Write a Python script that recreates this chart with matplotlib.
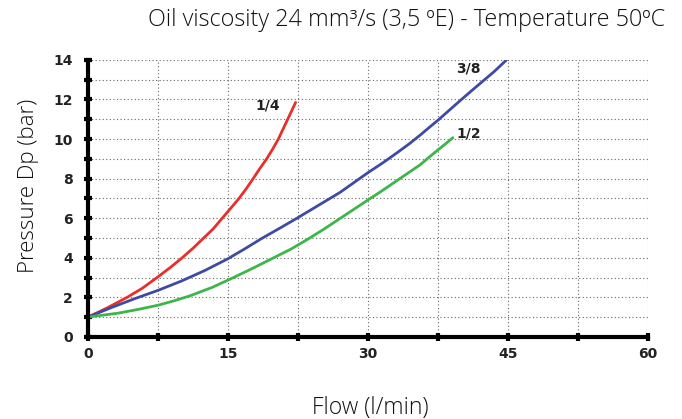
import matplotlib.pyplot as plt
from matplotlib.ticker import MultipleLocator

# pressure drop curves read at flow points (l/min -> bar)
flow_14 = [0, 2.0, 4.2, 5.8, 7.4, 8.8, 10.1, 11.3, 12.4, 13.4, 14.3, 15.2,
           16.1, 16.9, 17.7, 18.4, 19.15, 19.8, 20.4, 20.9, 21.35, 21.8, 22.25]
dp_14 = [1.0, 1.45, 2.0, 2.45, 3.0, 3.5, 4.0, 4.5, 5.0, 5.45, 5.95, 6.45,
         6.95, 7.45, 8.0, 8.5, 9.0, 9.5, 10.0, 10.5, 10.95, 11.4, 11.85]

flow_38 = [0, 2.5, 5.0, 7.5, 10.0, 12.5, 15.0, 16.8, 18.6, 20.5, 22.4,
           24.7, 27.0, 28.5, 30.0, 31.6, 33.1, 34.4, 35.6, 36.6, 37.5,
           38.7, 39.9, 41.0, 42.0, 43.5, 44.85]
dp_38 = [1.0, 1.48, 1.93, 2.35, 2.82, 3.35, 3.95, 4.45, 4.97, 5.48, 6.0,
         6.65, 7.3, 7.8, 8.3, 8.8, 9.3, 9.75, 10.2, 10.6, 10.95,
         11.45, 11.95, 12.4, 12.8, 13.4, 14.0]

flow_12 = [0, 3.25, 5.5, 7.5, 9.2, 10.9, 13.3, 15.6, 17.8, 19.9, 21.8,
           23.6, 25.3, 26.9, 28.5, 30.0, 31.4, 32.8, 34.2, 35.6, 36.6,
           37.5, 38.3, 39.1]
dp_12 = [1.0, 1.2, 1.4, 1.6, 1.82, 2.07, 2.5, 3.0, 3.5, 4.0, 4.45,
         4.95, 5.45, 5.95, 6.45, 6.92, 7.35, 7.8, 8.25, 8.7, 9.1,
         9.45, 9.75, 10.07]

title = "Oil viscosity 24 mm\u00b3/s (3,5 \u00baE) - Temperature 50\u00baC"

fig = plt.figure(figsize=(6.82, 4.19), dpi=100)
ax = fig.add_axes([0.129, 0.196, 0.821, 0.661])

ax.plot(flow_14, dp_14, color="#e8302a", lw=2, solid_capstyle="round")
ax.plot(flow_38, dp_38, color="#3f4aa2", lw=2, solid_capstyle="round")
ax.plot(flow_12, dp_12, color="#3db54a", lw=2, solid_capstyle="round")

tick_font = ["Liberation Sans Narrow", "DejaVu Sans"]
lbl = dict(fontsize=10, fontweight="bold", color="#222222", family=tick_font)
ax.text(19.3, 11.35, "1/4", ha="center", va="bottom", **lbl)
ax.text(40.8, 13.2, "3/8", ha="center", va="bottom", **lbl)
ax.text(40.8, 9.95, "1/2", ha="center", va="bottom", **lbl)

ax.set_xlim(0, 60)
ax.set_ylim(0, 14)
ax.xaxis.set_major_locator(MultipleLocator(15))
ax.xaxis.set_minor_locator(MultipleLocator(7.5))
ax.yaxis.set_major_locator(MultipleLocator(2))
ax.yaxis.set_minor_locator(MultipleLocator(1))

ax.grid(which="both", color="#666666", ls=(0, (1, 2.2)), lw=0.8)
ax.set_axisbelow(True)

for s in ["top", "right"]:
    ax.spines[s].set_visible(False)
for s in ["left", "bottom"]:
    ax.spines[s].set_linewidth(3)

ax.tick_params(which="both", direction="inout", length=6, width=3, color="black")
ax.tick_params(axis="y", which="major", pad=8)
ax.tick_params(axis="x", which="major", pad=4)
for t in ax.get_xticklabels() + ax.get_yticklabels():
    t.set_fontweight("bold")
    t.set_fontsize(10)
    t.set_family(tick_font)
    t.set_color("#222222")

ax.set_xlabel("Flow (l/min)", fontsize=16.5, family="Open Sans", fontweight="light",
              color="#111111")
ax.set_ylabel("Pressure Dp (bar)", fontsize=16, family="Open Sans", fontweight="light",
              color="#111111")
ax.xaxis.set_label_coords(0.504, -0.212)
ax.yaxis.set_label_coords(-0.088, 0.545)
fig.text(0.975, 0.952, title, ha="right", va="center", fontsize=16.8,
         family="Open Sans", fontweight="light", color="#111111")

fig.savefig("out.png", dpi=100)
